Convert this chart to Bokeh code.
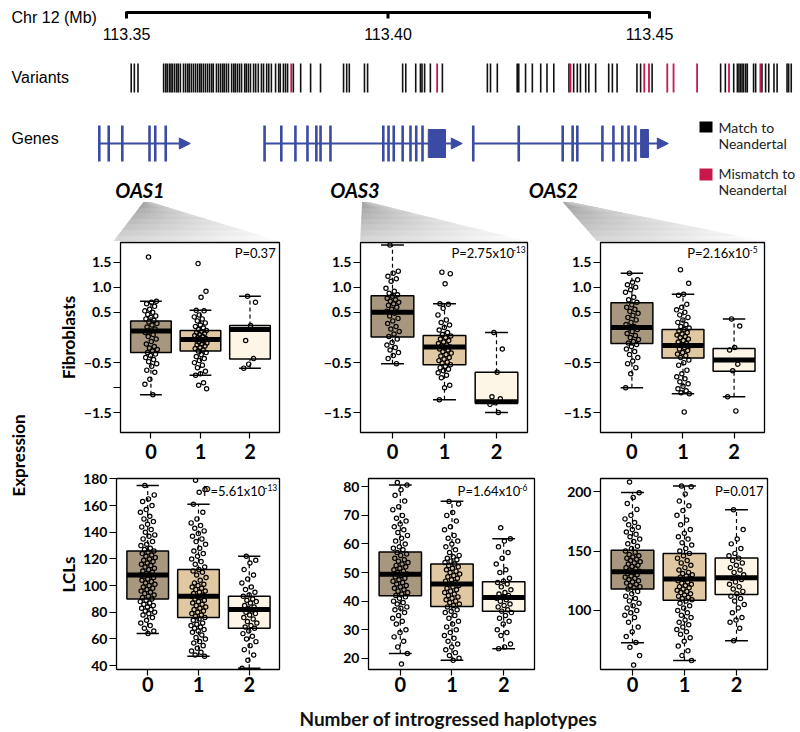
import math
from bokeh.plotting import figure
from bokeh.layouts import column, row
from bokeh.models import Range1d, FixedTicker, Arrow, NormalHead, CustomJSTickFormatter
from bokeh.embed import file_html
from bokeh.resources import INLINE
from bokeh.core.properties import value

# ---------------- data: genomic track (Mb) ----------------
SCALE_TICKS = [113.35, 113.40, 113.45]
SCALE_LABELS = ["113.35", "113.40", "113.45"]

VAR_MATCH = [113.3509, 113.3515, 113.3522,
             113.3571, 113.3575, 113.3578, 113.3582, 113.3585, 113.3588, 113.3592, 113.3596, 113.3599, 113.3603,
             113.3609, 113.3613, 113.3617, 113.3620, 113.3624, 113.3628, 113.3632, 113.3636, 113.3640, 113.3643,
             113.3647, 113.3651, 113.3655, 113.3659, 113.3663, 113.3666, 113.3672, 113.3676, 113.3680, 113.3684,
             113.3687, 113.3691, 113.3695, 113.3701, 113.3705, 113.3708, 113.3712, 113.3716, 113.3720, 113.3726,
             113.3729, 113.3733, 113.3737, 113.3743, 113.3747, 113.3752, 113.3758, 113.3762, 113.3768, 113.3772,
             113.3777, 113.3785, 113.3791, 113.3794, 113.3800, 113.3804, 113.3808,
             113.3819, 113.3833, 113.3852, 113.3871, 113.3915, 113.3921, 113.3926, 113.3955, 113.3961,
             113.4028, 113.4034, 113.4053, 113.4062, 113.4065, 113.4070, 113.4081, 113.4104,
             113.4190, 113.4196, 113.4209, 113.4247, 113.4250, 113.4263, 113.4276, 113.4292, 113.4304, 113.4317,
             113.4346, 113.4355, 113.4362, 113.4368, 113.4378, 113.4384, 113.4397,
             113.4422, 113.4429, 113.4438, 113.4476, 113.4483, 113.4505,
             113.4636, 113.4645, 113.4661, 113.4668, 113.4671, 113.4674, 113.4677, 113.4680, 113.4684, 113.4687,
             113.4699, 113.4703, 113.4715, 113.4722, 113.4728, 113.4738, 113.4744, 113.4763, 113.4766, 113.4771]
VAR_MISMATCH = [113.3815, 113.4094, 113.4349, 113.4490, 113.4499, 113.4534, 113.4546, 113.4591,
                113.4652, 113.4712]

GENE_NAMES = ["OAS1", "OAS3", "OAS2"]
GENE_START = [113.3448, 113.3764, 113.4163]
GENE_TIP = [113.3622, 113.4142, 113.4536]
OAS1_EXONS = [113.3448, 113.3466, 113.3492, 113.3544, 113.3555, 113.3575]
OAS3_EXONS = [113.3764, 113.3796, 113.3823, 113.3846, 113.3863, 113.3871, 113.3890, 113.3991,
              113.4001, 113.4011, 113.4028, 113.4043, 113.4054, 113.4066]
OAS2_EXONS = [113.4163, 113.4250, 113.4334, 113.4353, 113.4362, 113.4410, 113.4431, 113.4448,
              113.4460, 113.4473]
UTR_START = [113.4077, 113.4483]
UTR_END = [113.4110, 113.4498]

# ---------------- data: expression box plots ----------------
GROUPS = [0, 1, 2]
P_MAIN = ["P=0.37", "P=2.75x10", "P=2.16x10", "P=5.61x10", "P=1.64x10", "P=0.017"]
P_EXP = ["", "-13", "-5", "-13", "-6", ""]

# Fibroblasts OAS1
F1_LO = [-1.14, -0.75, -0.61]
F1_Q1 = [-0.30, -0.27, -0.43]
F1_MED = [0.13, -0.04, 0.16]
F1_Q3 = [0.33, 0.14, 0.24]
F1_HI = [0.72, 0.54, 0.82]
F1_G0 = [1.60, 0.72, 0.70, 0.67, 0.62, 0.56, 0.53, 0.50, 0.46, 0.43, 0.40, 0.37, 0.34, 0.31, 0.28, 0.25,
         0.21, 0.17, 0.13, 0.10, 0.06, 0.02, -0.03, -0.08, -0.13, -0.18, -0.21, -0.24, -0.27, -0.30, -0.33,
         -0.36, -0.40, -0.44, -0.48, -0.52, -0.57, -0.65, -0.69, -0.83, -0.93, -1.14]
F1_G1 = [1.47, 0.92, 0.80, 0.54, 0.53, 0.45, 0.41, 0.37, 0.33, 0.29, 0.25, 0.22, 0.19, 0.16, 0.14, 0.12,
         0.10, 0.08, 0.06, 0.04, 0.02, 0.00, -0.02, -0.04, -0.05, -0.07, -0.09, -0.11, -0.13, -0.15, -0.17,
         -0.20, -0.22, -0.25, -0.27, -0.30, -0.34, -0.38, -0.42, -0.46, -0.50, -0.55, -0.60, -0.67, -0.72,
         -0.75, -0.90, -0.95, -1.02]
F1_G2 = [0.82, 0.70, 0.24, -0.06, -0.42, -0.53, -0.61]

# Fibroblasts OAS3
F2_LO = [-0.52, -1.24, -1.49]
F2_Q1 = [0.01, -0.54, -1.31]
F2_MED = [0.50, -0.19, -1.28]
F2_Q3 = [0.83, 0.04, -0.69]
F2_HI = [1.84, 0.67, 0.10]
F2_G0 = [1.84, 1.32, 1.28, 1.22, 1.17, 1.12, 0.98, 0.92, 0.88, 0.85, 0.82, 0.78, 0.75, 0.72, 0.70, 0.67,
         0.64, 0.60, 0.56, 0.52, 0.48, 0.43, 0.38, 0.33, 0.28, 0.22, 0.17, 0.12, 0.07, 0.02, -0.03, -0.10,
         -0.15, -0.20, -0.25, -0.30, -0.36, -0.42, -0.52]
F2_G1 = [1.30, 1.27, 1.07, 0.67, 0.66, 0.58, 0.45, 0.35, 0.30, 0.25, 0.20, 0.15, 0.10, 0.06, 0.03, 0.00,
         -0.03, -0.06, -0.09, -0.12, -0.15, -0.17, -0.19, -0.21, -0.23, -0.25, -0.28, -0.31, -0.34, -0.37,
         -0.40, -0.43, -0.46, -0.49, -0.51, -0.54, -0.57, -0.60, -0.63, -0.66, -0.70, -0.75, -0.80, -0.95,
         -1.00, -1.24]
F2_G2 = [0.10, -0.23, -0.69, -1.18, -1.22, -1.30, -1.33, -1.49]

# Fibroblasts OAS2
F3_LO = [-1.00, -1.12, -1.18]
F3_Q1 = [-0.12, -0.41, -0.67]
F3_MED = [0.20, -0.16, -0.45]
F3_Q3 = [0.69, 0.16, -0.22]
F3_HI = [1.28, 0.86, 0.37]
F3_G0 = [1.28, 1.15, 1.10, 1.05, 1.00, 0.95, 0.90, 0.80, 0.75, 0.70, 0.65, 0.60, 0.56, 0.52, 0.48, 0.44,
         0.40, 0.35, 0.30, 0.26, 0.22, 0.19, 0.16, 0.12, 0.08, 0.04, 0.00, -0.04, -0.08, -0.11, -0.14,
         -0.18, -0.23, -0.28, -0.34, -0.40, -0.47, -0.52, -0.60, -0.72, -1.00]
F3_G1 = [1.35, 1.08, 0.86, 0.84, 0.66, 0.60, 0.55, 0.50, 0.45, 0.40, 0.35, 0.30, 0.26, 0.22, 0.19, 0.16,
         0.13, 0.10, 0.07, 0.05, 0.02, 0.00, -0.03, -0.06, -0.09, -0.12, -0.15, -0.17, -0.20, -0.23, -0.26,
         -0.30, -0.33, -0.36, -0.40, -0.45, -0.50, -0.55, -0.65, -0.72, -0.78, -0.82, -0.88, -0.92, -0.97,
         -1.02, -1.06, -1.10, -1.12, -1.48]
F3_G2 = [0.37, 0.23, -0.20, -0.25, -0.53, -0.66, -1.18, -1.46]

# LCLs OAS1
L1_LO = [64, 47, 38]
L1_Q1 = [90, 76, 68]
L1_MED = [108, 92, 82]
L1_Q3 = [126, 112, 92]
L1_HI = [175, 161, 122]
L1_G0 = [175, 168, 165, 163, 160, 157, 155, 152, 150, 148, 146, 144, 142, 140, 138, 137, 135, 133, 131, 130,
         128, 127, 126, 125, 124, 123, 122, 121, 120, 119, 118, 117, 116, 115, 114, 113, 112, 111, 110, 109,
         108, 108, 107, 106, 105, 104, 103, 102, 101, 100, 99, 98, 97, 96, 95, 94, 93, 92, 91, 90, 89, 88,
         87, 86, 85, 84, 83, 82, 81, 80, 79, 78, 76, 74, 72, 70, 68, 66, 64]
L1_G1 = [179, 172, 170, 161, 155, 150, 147, 145, 143, 141, 139, 137, 135, 133, 131, 128, 126, 124, 122, 120,
         118, 116, 114, 112, 111, 110, 108, 106, 104, 102, 101, 100, 99, 98, 97, 96, 95, 94, 93, 92, 92, 91,
         90, 89, 88, 87, 86, 85, 84, 83, 82, 81, 80, 79, 78, 77, 76, 75, 74, 72, 71, 70, 69, 68, 67, 66, 65,
         63, 61, 60, 58, 57, 55, 53, 51, 50, 48, 47]
L1_G2 = [122, 119, 117, 112, 108, 105, 102, 99, 97, 95, 93, 92, 90, 89, 88, 87, 85, 84, 83, 82, 81, 80, 79,
         78, 76, 75, 73, 72, 70, 69, 68, 66, 64, 62, 60, 58, 55, 52, 48, 44, 38]

# LCLs OAS3
L2_LO = [21.7, 19.3, 23.4]
L2_Q1 = [41.9, 38.1, 36.5]
L2_MED = [49.4, 46.0, 41.3]
L2_Q3 = [57.2, 53.0, 46.8]
L2_HI = [80.6, 74.9, 61.8]
L2_G0 = [81.5, 80.6, 79, 77, 75, 73, 72, 70, 69, 68, 67, 66, 65, 64, 63, 62, 61, 60, 59, 58.5, 58, 57, 56.5,
         56, 55, 54.5, 54, 53.5, 53, 52.5, 52, 51.5, 51, 50.5, 50, 49.5, 49, 48.5, 48, 47.5, 47, 46.5, 46,
         45.5, 45, 44.5, 44, 43.5, 43, 42.5, 42, 41.5, 41, 40, 39.5, 39, 38, 37.5, 37, 36, 35, 34, 33, 32, 30,
         29, 27.5, 26, 24, 21.7, 18]
L2_G1 = [74.9, 74, 71, 70, 68, 66, 65, 63, 62, 61, 60, 59, 58, 57, 56, 55.5, 55, 54.5, 54, 53.5, 53, 52.5,
         52, 51.5, 51, 50.5, 50, 49.5, 49, 48.5, 48, 47.5, 47, 46.5, 46, 45.5, 45, 44.5, 44, 43.5, 43, 42.5,
         42, 41.5, 41, 40.5, 40, 39.5, 39, 38.5, 38, 37, 36.5, 36, 35, 34, 33, 32, 31, 30, 29, 28, 27, 26, 25,
         24, 23, 22, 21, 20, 19.3]
L2_G2 = [65.7, 61.8, 61, 59, 57, 55, 53, 51, 50, 48, 47, 46.5, 46, 45, 44, 43, 42.5, 42, 41.5, 41, 40.5, 40,
         39, 38.5, 38, 37, 36.5, 36, 35, 34, 33, 32, 30, 29, 28, 25, 24, 23.4]

# LCLs OAS2
L3_LO = [72.8, 57.8, 74.4]
L3_Q1 = [118.0, 108.6, 113.3]
L3_MED = [132.5, 126.4, 127.5]
L3_Q3 = [150.6, 148.0, 144.2]
L3_HI = [199.2, 204.7, 184.7]
L3_G0 = [208, 199, 195, 190, 185, 180, 177, 174, 172, 170, 168, 166, 164, 162, 160, 158, 156, 154, 152, 150,
         149, 147, 146, 145, 144, 143, 142, 141, 140, 139, 138, 137, 136, 135, 134, 133, 132, 131, 130, 129,
         128, 127, 126, 125, 124, 123, 122, 121, 120, 119, 118, 116, 114, 112, 110, 108, 106, 104, 102, 100,
         98, 96, 94, 90, 86, 82, 78, 73, 69, 62, 54]
L3_G1 = [204.7, 204, 198, 192, 188, 184, 180, 176, 172, 168, 165, 162, 160, 157, 155, 152, 150, 148, 146,
         144, 142, 140, 138, 136, 134, 132, 131, 130, 129, 128, 127, 126, 125, 124, 123, 122, 121, 120, 119,
         118, 117, 116, 115, 114, 113, 112, 111, 110, 109, 108, 106, 104, 102, 100, 98, 96, 94, 92, 90, 88,
         86, 84, 82, 80, 77, 74, 70, 66, 62, 57.8]
L3_G2 = [184.7, 168, 160, 156, 152, 148, 146, 144, 142, 140, 138, 136, 134, 132, 130, 128, 127, 126, 124,
         122, 120, 118, 116, 114, 112, 110, 108, 105, 102, 98, 94, 92, 90, 85, 74.4]

# ---------------- styles ----------------
BOX_COLORS = ["#a8977f", "#dfc8a2", "#fdf5e6"]
GENE_BLUE = "#3b4aa3"
MISMATCH_RED = "#c8174b"
SANS = "Liberation Sans"
HUM = "Lato"

MB_PER_PX = 0.05 / 261.5


def px(x):
    # page x (pixels) -> Mb, used only to place decorations on the top track
    return 113.35 + (x - 126) * MB_PER_PX


def bare(p):
    p.xgrid.visible = False
    p.ygrid.visible = False
    p.outline_line_color = None
    p.background_fill_color = "white"
    p.border_fill_color = "white"


# ---------------- top genomic track ----------------
TOP_H = 241
top = figure(width=800, height=TOP_H, x_range=Range1d(px(0), px(800)), y_range=Range1d(TOP_H, 0),
             output_backend="svg", toolbar_location=None, x_axis_location=None, y_axis_location=None,
             min_border=0)
bare(top)


def wedge(p, tl, tr, bl, br, ytop, ybot, n=30, m=7):
    xs, ys, cols = [], [], []
    for i in range(n):
        for j in range(m):
            u0, u1 = i / n, (i + 1) / n
            v0, v1 = j / m, (j + 1) / m

            def pt(u, v):
                xt = tl + (tr - tl) * u
                xb = bl + (br - bl) * u
                return px(xt + (xb - xt) * v), ytop + (ybot - ytop) * v
            c = [pt(u0, v0), pt(u1, v0), pt(u1, v1), pt(u0, v1)]
            xs.append([q[0] for q in c])
            ys.append([q[1] for q in c])
            t = min(1.0, 0.42 * (u0 + u1) / 2 + 0.62 * (v0 + v1) / 2)
            g = int(158 + 94 * t)
            cols.append("#%02x%02x%02x" % (g, g, g))
    p.patches(xs, ys, fill_color=cols, line_color=cols, line_width=0.7)


wedge(top, 143, 150, 113, 279, 202, TOP_H)
wedge(top, 362, 368, 360, 527, 202, TOP_H)
wedge(top, 563, 570, 597, 764, 202, TOP_H)

# scale bar
top.segment(x0=[SCALE_TICKS[0]], y0=[12], x1=[SCALE_TICKS[-1]], y1=[12], line_color="black", line_width=3.2)
top.segment(x0=SCALE_TICKS, y0=[11] * 3, x1=SCALE_TICKS, y1=[18] * 3, line_color="black", line_width=3)
top.text(x=SCALE_TICKS, y=[33] * 3, text=SCALE_LABELS, text_align="center", text_baseline="middle",
         text_font=value(SANS), text_font_size="16px", text_color="black")
top.text(x=[px(11)], y=[17], text=["Chr 12 (Mb)"], text_align="left", text_baseline="middle",
         text_font=value(SANS), text_font_size="16px", text_color="black")
top.text(x=[px(11)], y=[77], text=["Variants"], text_align="left", text_baseline="middle",
         text_font=value(SANS), text_font_size="16px", text_color="black")
top.text(x=[px(11)], y=[138], text=["Genes"], text_align="left", text_baseline="middle",
         text_font=value(SANS), text_font_size="16px", text_color="black")

# variants
top.segment(x0=VAR_MATCH, y0=[63] * len(VAR_MATCH), x1=VAR_MATCH, y1=[92] * len(VAR_MATCH),
            line_color="#111111", line_width=1.6)
top.segment(x0=VAR_MISMATCH, y0=[63] * len(VAR_MISMATCH), x1=VAR_MISMATCH, y1=[92] * len(VAR_MISMATCH),
            line_color=MISMATCH_RED, line_width=1.8)

# genes
for s, t in zip(GENE_START, GENE_TIP):
    top.add_layout(Arrow(end=NormalHead(size=11, fill_color=GENE_BLUE, line_color=GENE_BLUE, line_width=1),
                         x_start=s, y_start=143, x_end=t, y_end=143,
                         line_color=GENE_BLUE, line_width=2.2))
exons = OAS1_EXONS + OAS3_EXONS + OAS2_EXONS
top.segment(x0=exons, y0=[125] * len(exons), x1=exons, y1=[161] * len(exons),
            line_color=GENE_BLUE, line_width=2.6)
top.quad(left=UTR_START, right=UTR_END, top=[129] * 2, bottom=[157] * 2,
         fill_color=GENE_BLUE, line_color=GENE_BLUE)
top.text(x=[px(139.5), px(354.5), px(553)], y=[189] * 3, text=GENE_NAMES, text_align="center",
         text_baseline="middle", text_font=value(HUM), text_font_size="20px", text_font_style="bold italic",
         text_color="black")

# legend
top.quad(left=[px(699), px(699)], right=[px(712), px(712)], top=[121, 168], bottom=[132, 180],
         fill_color=["black", MISMATCH_RED], line_color=None)
top.text(x=[px(718)] * 4, y=[127, 143, 173, 189], text=["Match to", "Neandertal", "Mismatch to", "Neandertal"],
         text_align="left", text_baseline="middle", text_font=value(HUM), text_font_size="14px",
         text_color="#222222")

# ---------------- box plot panels ----------------
XLO, XHI = -0.615, 2.596


def fib_fmt(hide_minus_one):
    extra = 'if (Math.abs(tick + 1.0) < 1e-9) { return ""; }' if hide_minus_one else ""
    return extra + 'var s = Math.abs(tick).toFixed(1); return (tick < 0 ? "\\u2212" : "") + s;'


def panel(w, h, bl, br, bt, bb, yr, yticks, fmt, lo, q1, med, q3, hi, pts, jit,
          pmain, pexp, main_gap, exp_gap, ptop, xstand):
    p = figure(width=w, height=h, x_range=Range1d(XLO, XHI), y_range=Range1d(yr[0], yr[1]),
               output_backend="svg", toolbar_location=None,
               min_border_left=bl, min_border_right=br, min_border_top=bt, min_border_bottom=bb)
    p.xgrid.visible = False
    p.ygrid.visible = False
    p.outline_line_color = "black"
    p.outline_line_width = 1.3
    p.outline_line_alpha = 1.0
    p.background_fill_color = "white"
    p.border_fill_color = "white"
    for ax in (p.xaxis[0], p.yaxis[0]):
        ax.axis_line_color = None
        ax.major_tick_line_color = "black"
        ax.major_tick_line_width = 1.2
        ax.major_tick_in = 0
        ax.minor_tick_line_color = None
        ax.major_label_text_font = HUM
        ax.major_label_text_font_style = "bold"
        ax.major_label_text_color = "black"
    xa = p.xaxis[0]
    xa.ticker = FixedTicker(ticks=GROUPS)
    xa.major_tick_out = 6
    xa.major_label_standoff = xstand
    xa.major_label_text_font_size = "20px"
    ya = p.yaxis[0]
    ya.ticker = FixedTicker(ticks=yticks)
    ya.major_tick_out = 7
    ya.major_label_standoff = 2
    ya.major_label_text_font_size = "14px"
    if fmt:
        ya.formatter = CustomJSTickFormatter(code=fmt)

    half, cap = 0.41, 0.22
    p.vbar(x=GROUPS, bottom=q1, top=q3, width=2 * half, fill_color=BOX_COLORS,
           line_color="black", line_width=1.5)
    p.segment(x0=GROUPS, y0=q3, x1=GROUPS, y1=hi, line_color="black", line_width=1.2, line_dash="4 3")
    p.segment(x0=GROUPS, y0=lo, x1=GROUPS, y1=q1, line_color="black", line_width=1.2, line_dash="4 3")
    p.segment(x0=[g - cap for g in GROUPS], y0=hi, x1=[g + cap for g in GROUPS], y1=hi,
              line_color="black", line_width=1.5)
    p.segment(x0=[g - cap for g in GROUPS], y0=lo, x1=[g + cap for g in GROUPS], y1=lo,
              line_color="black", line_width=1.5)
    p.segment(x0=[g - half for g in GROUPS], y0=med, x1=[g + half for g in GROUPS], y1=med,
              line_color="black", line_width=5, line_cap="butt")
    xs, ys = [], []
    for g, vals in zip(GROUPS, pts):
        for i, v in enumerate(vals):
            xs.append(g + jit * (((i * 0.618034 + 0.31) % 1.0) - 0.5))
            ys.append(v)
    p.scatter(x=xs, y=ys, marker="circle", size=4.3, fill_color=None,
              line_color="black", line_width=1.2)

    frame_w = w - bl - br
    frame_h = h - bt - bb
    upx = (XHI - XLO) / frame_w
    vpx = (yr[1] - yr[0]) / frame_h
    p.text(x=[XHI - main_gap * upx], y=[yr[1] - ptop * vpx], text=[pmain], text_align="right",
           text_baseline="middle", text_font=value(HUM), text_font_size="13px", text_color="black")
    if pexp:
        p.text(x=[XHI - exp_gap * upx], y=[yr[1] - (ptop - 3.5) * vpx], text=[pexp], text_align="right",
               text_baseline="middle", text_font=value(HUM), text_font_size="8.5px", text_color="black")
    return p


FY = (-1.89, 1.89)
FTICKS = [1.5, 1.0, 0.5, -0.5, -1.5]
H1 = 224
H2 = 232
SIDE_W = 80

a1 = panel(300 - SIDE_W, H1, 113 - SIDE_W, 21, 1, 33, FY, [1.5, 1.0, 0.5, -0.5, -1.0, -1.5], fib_fmt(True),
           F1_LO, F1_Q1, F1_MED, F1_Q3, F1_HI, [F1_G0, F1_G1, F1_G2], 0.26,
           P_MAIN[0], P_EXP[0], 4, 0, 10.5, 5)
a2 = panel(260, H1, 60, 33, 1, 33, FY, FTICKS, fib_fmt(False),
           F2_LO, F2_Q1, F2_MED, F2_Q3, F2_HI, [F2_G0, F2_G1, F2_G2], 0.26,
           P_MAIN[1], P_EXP[1], 13.5, 1.8, 10.5, 5)
a3 = panel(240, H1, 37, 36, 1, 33, FY, FTICKS, fib_fmt(False),
           F3_LO, F3_Q1, F3_MED, F3_Q3, F3_HI, [F3_G0, F3_G1, F3_G2], 0.26,
           P_MAIN[2], P_EXP[2], 15, 7, 10.5, 5)

b1 = panel(300 - SIDE_W, H2, 113 - SIDE_W, 21, 13, 28, (37.1, 180.3), [40, 60, 80, 100, 120, 140, 160, 180],
           None, L1_LO, L1_Q1, L1_MED, L1_Q3, L1_HI, [L1_G0, L1_G1, L1_G2], 0.3,
           P_MAIN[3], P_EXP[3], 14.5, 2.3, 12, 1)
b2 = panel(260, H2, 68, 26, 13, 28, (16.1, 82.9), [20, 30, 40, 50, 60, 70, 80], None,
           L2_LO, L2_Q1, L2_MED, L2_Q3, L2_HI, [L2_G0, L2_G1, L2_G2], 0.3,
           P_MAIN[4], P_EXP[4], 14.3, 7, 12, 1)
b3 = panel(240, H2, 40, 33, 13, 28, (50.3, 211.0), [100, 150, 200], None,
           L3_LO, L3_Q1, L3_MED, L3_Q3, L3_HI, [L3_G0, L3_G1, L3_G2], 0.3,
           P_MAIN[5], P_EXP[5], 4, 0, 12, 1)

# ---------------- side labels ----------------
side = figure(width=SIDE_W, height=H1 + H2, x_range=Range1d(0, SIDE_W), y_range=Range1d(H1 + H2, 0),
              output_backend="svg", toolbar_location=None, x_axis_location=None, y_axis_location=None,
              min_border=0)
bare(side)
side.text(x=[18], y=[214], text=["Expression"], angle=math.pi / 2, text_align="center",
          text_baseline="middle", text_font=value(HUM), text_font_size="17px", text_font_style="bold",
          text_color="black")
side.text(x=[68, 68], y=[96, 333], text=["Fibroblasts", "LCLs"], angle=math.pi / 2, text_align="center",
          text_baseline="middle", text_font=value(HUM), text_font_size="17px", text_font_style="bold",
          text_color="black")

# ---------------- bottom title ----------------
TITLE_H = 35
title = figure(width=800, height=TITLE_H, x_range=Range1d(0, 800), y_range=Range1d(TITLE_H, 0),
               output_backend="svg", toolbar_location=None, x_axis_location=None, y_axis_location=None,
               min_border=0)
bare(title)
title.text(x=[448], y=[21], text=["Number of introgressed haplotypes"], text_align="center",
           text_baseline="middle", text_font=value(HUM), text_font_size="19px", text_font_style="bold",
           text_color="#111111")

layout = column(top, row(side, column(row(a1, a2, a3), row(b1, b2, b3))), title)

open("out.html", "w").write(file_html(layout, INLINE))
